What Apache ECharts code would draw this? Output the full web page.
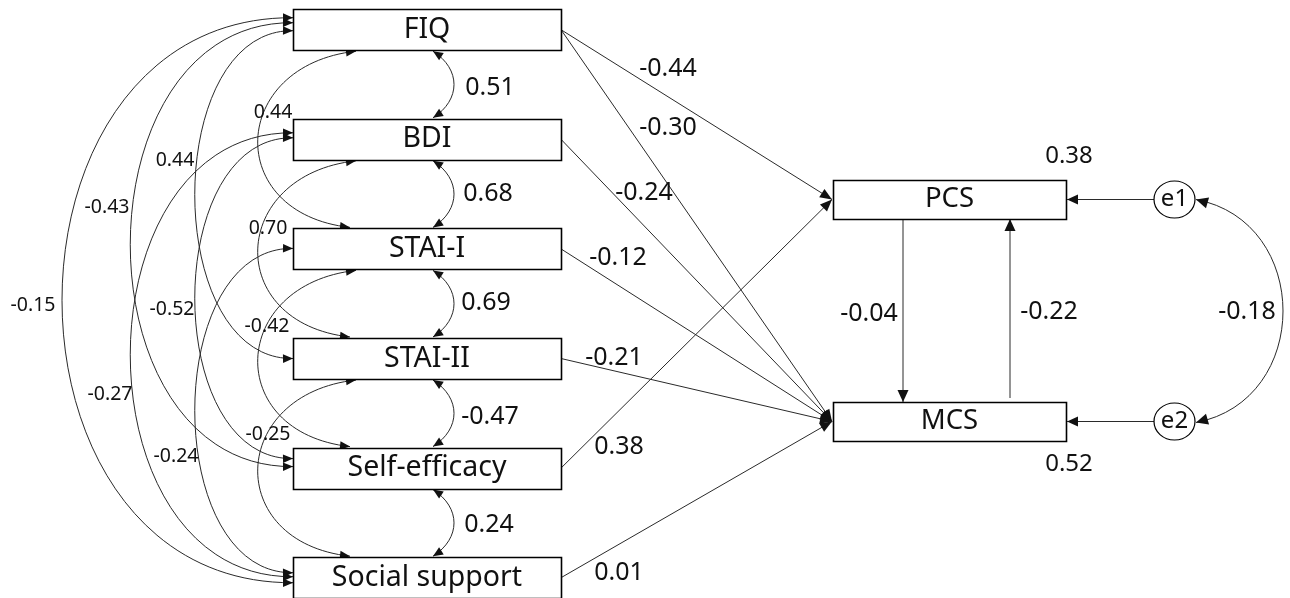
<!DOCTYPE html>
<html><head><meta charset="utf-8">
<script src="https://cdn.jsdelivr.net/npm/echarts@6/dist/echarts.min.js"></script>
<style>html,body{margin:0;padding:0;background:#fff}#c{width:1290px;height:598px}</style>
</head><body><div id="c"></div>
<script>
// ---------------- DATA ----------------
const predictors = ['FIQ','BDI','STAI-I','STAI-II','Self-efficacy','Social support'];
const outcomes = ['PCS','MCS'];
const errorTerms = ['e1','e2'];
const rSquared = [0.38, 0.52];
const pathFrom = ['FIQ','FIQ','BDI','STAI-I','STAI-II','Self-efficacy','Social support'];
const pathTo   = ['PCS','MCS','MCS','MCS','MCS','PCS','MCS'];
const pathCoef = [-0.44,-0.30,-0.24,-0.12,-0.21,0.38,0.01];
const corrA = ['FIQ','BDI','STAI-I','STAI-II','Self-efficacy','FIQ','BDI','STAI-I','STAI-II','FIQ','BDI','STAI-I','FIQ','BDI','FIQ'];
const corrB = ['BDI','STAI-I','STAI-II','Self-efficacy','Social support','STAI-I','STAI-II','Self-efficacy','Social support','STAI-II','Self-efficacy','Social support','Self-efficacy','Social support','Social support'];
const corrCoef = [0.51,0.68,0.69,-0.47,0.24,0.44,0.70,-0.42,-0.25,0.44,-0.52,-0.24,-0.43,-0.27,-0.15];
const reciprocalFrom = ['PCS','MCS'];
const reciprocalTo = ['MCS','PCS'];
const reciprocalCoef = [-0.04,-0.22];
const errorCovCoef = [-0.18];

// ---------------- LAYOUT (diagram space) ----------------
const LAY = {
  boxL: 293, boxR: 561, boxH: 41, row0: 29.7, rowStep: 109.6,
  outL: 833, outR: 1066, outH: 39, outY: [199.5, 421.5],
  errX: 1174.5, errRx: 20.5, errRy: 18.5,
  downX: 903, upX: 1010,
  adjX: 433, adjK: 28,
  skip1Top: 356, skip1Bot: 350, skip1K: 127,
  leftK: {3: 131, 4: 217, 5: 308}
};
// attach offsets for left-edge covariance arcs (start, end), by correlation index
const corrAttach = {9:[1,0], 10:[-1.5,-9.5], 11:[-0.5,-5], 12:[-7,-1.5], 13:[-6.5,-1], 14:[-12,5]};
const pathLabelPos = [[668,69],[668,128],[644,193],[618,258],[614,358],[619,447],[619,573]];
const corrLabelPos = [[490,88],[488,194],[486,303],[490,417],[489,525],[273,112],[268,228],[267,326],[268,434],[175,160],[172,309],[176,456],[107,207],[110,394],[33,305]];
const recipLabelPos = [[869,314],[1049,312]];
const r2LabelPos = [[1069,156],[1069,464]];
const errCovLabelPos = [[1247,312]];

const FONT = '"Noto Sans", "Open Sans", "DejaVu Sans", sans-serif';
const INK = '#111';
const LINE = '#2a2a2a';

function rowY(i){ return LAY.row0 + i*LAY.rowStep; }
function node(name){
  let i = predictors.indexOf(name);
  if (i >= 0) { const cy = rowY(i); return {l:LAY.boxL, r:LAY.boxR, t:cy-LAY.boxH/2, b:cy+LAY.boxH/2, cy, cx:(LAY.boxL+LAY.boxR)/2, i}; }
  i = outcomes.indexOf(name);
  const cy = LAY.outY[i];
  return {l:LAY.outL, r:LAY.outR, t:cy-LAY.outH/2, b:cy+LAY.outH/2, cy, cx:(LAY.outL+LAY.outR)/2, i};
}
const fmt = v => v.toFixed(2);

function arrowHead(api, tip, from, len, hw){
  len = len || 10; hw = hw || 4.3;
  const t = api.coord(tip), f = api.coord(from);
  let dx = t[0]-f[0], dy = t[1]-f[1]; const d = Math.hypot(dx,dy) || 1; dx/=d; dy/=d;
  const bx = t[0]-dx*len, by = t[1]-dy*len;
  return {type:'polygon', shape:{points:[t,[bx - dy*hw, by + dx*hw],[bx + dy*hw, by - dx*hw]]}, style:{fill:INK}};
}
function label(api, pos, text, size){
  const p = api.coord(pos);
  return {type:'text', x:p[0], y:p[1], style:{text, fill:INK, font: size+'px '+FONT, align:'center', verticalAlign:'middle'}};
}
function line(api, a, b){
  const p = api.coord(a), q = api.coord(b);
  return {type:'line', shape:{x1:p[0],y1:p[1],x2:q[0],y2:q[1]}, style:{stroke:LINE, lineWidth:1}};
}
function bez(api, p0, p1, p2, p3){
  const a=api.coord(p0), b=api.coord(p1), c=api.coord(p2), d=api.coord(p3);
  return {type:'bezierCurve', shape:{x1:a[0],y1:a[1],cpx1:b[0],cpy1:b[1],cpx2:c[0],cpy2:c[1],x2:d[0],y2:d[1]}, style:{stroke:LINE, lineWidth:1, fill:null}};
}

const allNodes = predictors.concat(outcomes);

const boxSeries = {
  type:'custom', coordinateSystem:'cartesian2d', silent:true, clip:false,
  data: allNodes.map((n,i)=>[i,0]),
  renderItem(params, api){
    const n = node(allNodes[params.dataIndex]);
    const a = api.coord([n.l, n.t]), b = api.coord([n.r, n.b]);
    const isPred = params.dataIndex < predictors.length;
    return {type:'group', children:[
      {type:'rect', shape:{x:Math.round(a[0])+0.5, y:Math.round(a[1])+0.5, width:Math.round(b[0]-a[0]), height:Math.round(b[1]-a[1])}, style:{fill:'#fff', stroke:'#000', lineWidth:1.6}},
      label(api, [n.cx, n.cy], allNodes[params.dataIndex], isPred ? 28.5 : 27.5)
    ]};
  }
};

const errSeries = {
  type:'custom', coordinateSystem:'cartesian2d', silent:true, clip:false,
  data: errorTerms.map((e,i)=>[i,0]),
  renderItem(params, api){
    const i = params.dataIndex, cy = LAY.outY[i];
    const c = api.coord([LAY.errX, cy]);
    return {type:'group', children:[
      line(api, [LAY.errX-LAY.errRx, cy], [LAY.outR+1, cy]),
      arrowHead(api, [LAY.outR+1, cy], [LAY.errX, cy], 11, 5),
      {type:'ellipse', shape:{cx:c[0], cy:c[1], rx:LAY.errRx, ry:LAY.errRy}, style:{fill:'#fff', stroke:'#000', lineWidth:1.2}},
      label(api, [LAY.errX, cy], errorTerms[i], 24),
      label(api, r2LabelPos[i], fmt(rSquared[i]), 24)
    ]};
  }
};

const pathSeries = {
  type:'custom', coordinateSystem:'cartesian2d', silent:true, clip:false,
  data: pathCoef.map((v,i)=>[i,v]),
  renderItem(params, api){
    const i = params.dataIndex;
    const a = node(pathFrom[i]), b = node(pathTo[i]);
    const s = [a.r, a.cy], e = [b.l - 1, b.cy];
    return {type:'group', children:[
      line(api, s, e),
      arrowHead(api, e, s, 12, 5),
      label(api, pathLabelPos[i], fmt(pathCoef[i]), 25)
    ]};
  }
};

const recipSeries = {
  type:'custom', coordinateSystem:'cartesian2d', silent:true, clip:false,
  data: reciprocalCoef.map((v,i)=>[i,v]),
  renderItem(params, api){
    const i = params.dataIndex;
    const a = node(reciprocalFrom[i]), b = node(reciprocalTo[i]);
    const x = i === 0 ? LAY.downX : LAY.upX;
    const s = a.cy < b.cy ? [x, a.b] : [x, a.t - 4];
    const e = a.cy < b.cy ? [x, b.t] : [x, b.b];
    return {type:'group', children:[
      line(api, s, e),
      arrowHead(api, e, s, 12, 5.5),
      label(api, recipLabelPos[i], fmt(reciprocalCoef[i]), 25)
    ]};
  }
};

const errCovSeries = {
  type:'custom', coordinateSystem:'cartesian2d', silent:true, clip:false,
  data: errorCovCoef.map((v,i)=>[i,v]),
  renderItem(params, api){
    const x0 = LAY.errX + LAY.errRx + 1, y0 = LAY.outY[0], y1 = LAY.outY[1] + 1;
    const k = 116;
    const p1 = [x0 + k, y0 + 22], p2 = [x0 + k, y1 - 22];
    return {type:'group', children:[
      bez(api, [x0,y0], p1, p2, [x0,y1]),
      arrowHead(api, [x0,y0], [x0+12, y0+3.5], 12, 5.5),
      arrowHead(api, [x0,y1], [x0+12, y1-3.5], 12, 5.5),
      label(api, errCovLabelPos[0], fmt(errorCovCoef[0]), 25)
    ]};
  }
};

const corrSeries = {
  type:'custom', coordinateSystem:'cartesian2d', silent:true, clip:false,
  data: corrCoef.map((v,i)=>[i,v]),
  renderItem(params, api){
    const i = params.dataIndex;
    const a = node(corrA[i]), b = node(corrB[i]);
    const span = b.i - a.i;
    let p0, p1, p2, p3, big = false;
    if (span === 1) {
      big = true;
      p0 = [LAY.adjX, a.b + 1]; p3 = [LAY.adjX, b.t - 1];
      p1 = [LAY.adjX + LAY.adjK, p0[1] + 18]; p2 = [LAY.adjX + LAY.adjK, p3[1] - 18];
    } else if (span === 2) {
      p0 = [LAY.skip1Top, a.b + 1]; p3 = [LAY.skip1Bot, b.t - 1];
      p1 = [p0[0] - LAY.skip1K, p0[1] + 14]; p2 = [p3[0] - LAY.skip1K, p3[1] - 14];
    } else {
      const off = corrAttach[i];
      const k = LAY.leftK[span];
      p0 = [LAY.boxL, a.cy + off[0]]; p3 = [LAY.boxL, b.cy + off[1]];
      p1 = [LAY.boxL - k, p0[1] - 2]; p2 = [LAY.boxL - k, p3[1] + 2];
    }
    const tA = [p0[0] + (p1[0]-p0[0])*0.25, p0[1] + (p1[1]-p0[1])*0.25];
    const tB = [p3[0] + (p2[0]-p3[0])*0.25, p3[1] + (p2[1]-p3[1])*0.25];
    return {type:'group', children:[
      bez(api, p0, p1, p2, p3),
      arrowHead(api, p0, tA, 10, 4.3),
      arrowHead(api, p3, tB, 10, 4.3),
      label(api, corrLabelPos[i], fmt(corrCoef[i]), big ? 25 : 19.5)
    ]};
  }
};

const chart = echarts.init(document.getElementById('c'));
chart.setOption({
  animation:false,
  backgroundColor:'#fff',
  grid:{left:0, right:0, top:0, bottom:0},
  xAxis:{type:'value', min:0, max:1290, show:false},
  yAxis:{type:'value', min:0, max:598, inverse:true, show:false},
  series:[corrSeries, pathSeries, recipSeries, errCovSeries, boxSeries, errSeries]
});
</script></body></html>
